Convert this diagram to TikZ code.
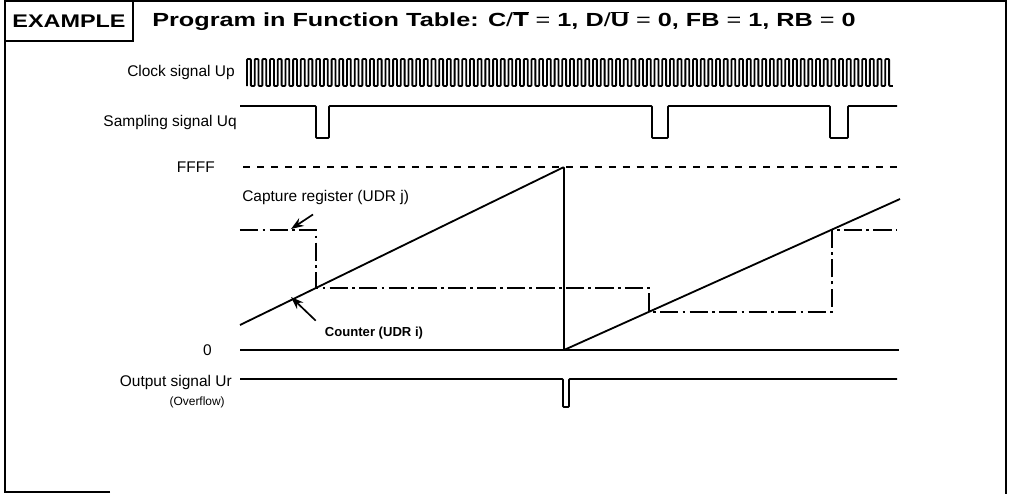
\documentclass[tikz,border=0pt]{standalone}
\usepackage{fontspec}
\usepackage{graphicx}
\setmainfont{Liberation Sans}
\usetikzlibrary{positioning,arrows.meta}
\tikzset{sig/.style={line width=1.3pt,line join=round,rounded corners=0.6pt},
lbl/.style={anchor=east,inner sep=0pt,font=\fontsize{11}{13}\selectfont},
levelline/.style={line width=1.1pt,dash pattern=on 5pt off 5pt},
capline/.style={line width=1.3pt,dash pattern=on 13pt off 3pt on 2pt off 3pt},
pointer/.style={line width=1.2pt,-{Stealth[length=9pt,width=6.5pt]}},
frame/.style={line width=1.2pt}}
\newcommand{\widebold}[2][1.28]{\scalebox{#1}[1]{\bfseries #2}}
\newcommand{\eqsign}{\ {\mdseries =}\ }
\newcommand{\barred}[1]{$\overline{\mbox{#1}}$}

\begin{document}
\begin{tikzpicture}[x=0.025cm,y=-0.025cm]
    \useasboundingbox (0,0) rectangle (1010,494);
    % frame and heading
    \draw[frame] (110,492) -- (5,492) -- (5,1) -- (1006,1) -- (1006,494);
    \draw[frame] (5,41) -- (133,41) -- (133,1);
    \node[font=\fontsize{13}{15}\selectfont] (tag) at (69,21) {\widebold{EXAMPLE}};
    \node[anchor=west,inner sep=0pt,font=\fontsize{13.5}{15}\selectfont] (title) at (152,21) {\widebold[1.33]{Program in Function Table: C{\mdseries /}\barred{T}\eqsign 1, D{\mdseries /}\barred{U}\eqsign 0, FB\eqsign 1, RB\eqsign 0}};
    % clock
    \coordinate (clk-start) at (247,72);
    \node[lbl,left=12 of clk-start] (clk) {Clock signal Up};
    \draw[sig] (247,86) foreach \i in {1,...,84} { -- ++(0,-27) -- ++(3.85,0) -- ++(0,27) -- ++(3.84,0) };
    % sampling
    \coordinate (smp-start) at (240,122);
    \node[lbl,left=3 of smp-start] (smp) {Sampling signal Uq};
    \draw[sig] (240,106) -- (316,106) -- (316,138) -- (329,138) -- (329,106)
        -- (652,106) -- (652,138) -- (668,138) -- (668,106)
        -- (830,106) -- (830,138) -- (848,138) -- (848,106) -- (897,106);
    % levels
    \node[lbl] (ffff) at (215,167) {FFFF};
    \node[lbl] (zero) at (212,350) {0};
    \draw[levelline] (243,167) -- (897,167);
    \draw[line width=1.1pt] (240,350) -- (899,350);
    % counter and capture register
    \coordinate (cnt-a) at (240,325);
    \coordinate (cnt-top) at (564,167);
    \coordinate (cnt-bot) at (564,350);
    \coordinate (cnt-b) at (900,199);
    \draw[sig] (cnt-a) -- (cnt-top) -- (cnt-bot) -- (cnt-b);
    \draw[capline] (240,230) -- (316,230) -- (316,288) -- (649,288) -- (649,312)
        -- (832,312) -- (832,230) -- (897,230);
    \node[anchor=west,inner sep=0pt,font=\fontsize{11}{13}\selectfont] (cap) at (242,197) {Capture register (UDR j)};
    \node[inner sep=0pt,font=\fontsize{9.3}{11}\selectfont\bfseries] (cnt) at (374,333) {Counter (UDR i)};
    \coordinate (cap-tip) at (291,229);
    \coordinate (cnt-tip) at (291,297);
    \draw[pointer] (cap.south west) ++(71,10) -- (cap-tip);
    \draw[pointer] (cnt.north west) ++(-9,-6) -- (cnt-tip);
    % output
    \coordinate (out-start) at (240,382);
    \node[lbl,left=8 of out-start] (out) {Output signal Ur};
    \node[lbl,font=\fontsize{8.5}{10}\selectfont] (ovf) at (225,402) {(Overflow)};
    \draw[sig] (240,379) -- (563,379) -- (563,407) -- (569,407) -- (569,379) -- (897,379);
\end{tikzpicture}
\end{document}
